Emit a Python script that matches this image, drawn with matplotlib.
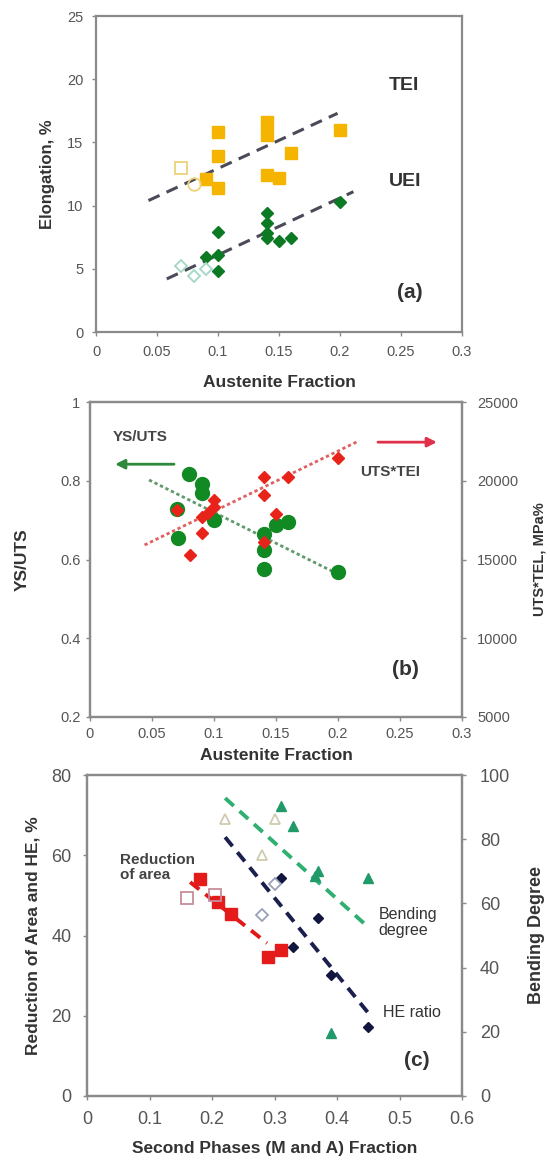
import matplotlib
matplotlib.use("Agg")
import matplotlib.pyplot as plt
from matplotlib.ticker import FuncFormatter

plt.rcParams['font.family'] = ['Liberation Sans', 'DejaVu Sans']

# ---- (a) elongation vs austenite fraction ----
tei_x = [0.09, 0.1, 0.1, 0.1, 0.14, 0.14, 0.14, 0.15, 0.16, 0.2]
tei_y = [12.1, 15.8, 13.9, 11.4, 16.6, 15.6, 12.4, 12.2, 14.2, 16.0]
tei_open_sq_x = [0.07]
tei_open_sq_y = [13.0]
tei_open_circ_x = [0.08]
tei_open_circ_y = [11.7]
uei_x = [0.09, 0.1, 0.1, 0.1, 0.14, 0.14, 0.14, 0.14, 0.15, 0.16, 0.2]
uei_y = [5.9, 7.9, 6.1, 4.8, 9.4, 8.6, 7.8, 7.4, 7.2, 7.4, 10.3]
uei_open_x = [0.07, 0.08, 0.09]
uei_open_y = [5.2, 4.4, 5.0]
tei_fit_x = [0.043, 0.198]
tei_fit_y = [10.4, 17.3]
uei_fit_x = [0.058, 0.211]
uei_fit_y = [4.2, 11.1]

# ---- (b) YS/UTS and UTS*TEl ----
ys_x = [0.07, 0.071, 0.08, 0.09, 0.09, 0.1, 0.14, 0.14, 0.14, 0.15, 0.16, 0.2]
ys_y = [0.728, 0.655, 0.817, 0.792, 0.769, 0.70, 0.665, 0.624, 0.576, 0.688, 0.695, 0.568]
pse_x = [0.07, 0.081, 0.09, 0.09, 0.095, 0.1, 0.1, 0.14, 0.14, 0.14, 0.15, 0.16, 0.2]
pse_y = [18140, 15290, 16680, 17700, 17950, 18330, 18780, 20240, 19100, 16110, 17890, 20240, 21440]
ys_fit_x = [0.0476, 0.198]
ys_fit_y = [0.802, 0.566]
pse_fit_x = [0.044, 0.215]
pse_fit_y = [15920, 22460]

# ---- (c) reduction of area, HE ratio, bending degree ----
ra_x = [0.18, 0.21, 0.23, 0.29, 0.31]
ra_y = [54.1, 48.3, 45.3, 34.6, 36.4]
ra_open_x = [0.16, 0.205]
ra_open_y = [49.3, 50.2]
he_x = [0.31, 0.33, 0.37, 0.39, 0.45]
he_y = [54.3, 37.1, 44.4, 30.2, 17.2]
he_open_x = [0.28, 0.30]
he_open_y = [45.1, 52.8]
bend_x = [0.31, 0.33, 0.365, 0.37, 0.39, 0.45]
bend_y = [90.3, 84.1, 68.5, 70.0, 19.6, 67.9]
bend_open_x = [0.22, 0.28, 0.30]
bend_open_y = [86.3, 75.1, 86.3]
ra_fit_x = [0.165, 0.288]
ra_fit_y = [53.3, 38.1]
he_fit_x = [0.221, 0.45]
he_fit_y = [64.5, 20.7]
bend_fit_x = [0.221, 0.45]
bend_fit_y = [92.8, 52.6]

SPINE = '#8a8a8a'
TICKC = '#555555'
LABELC = '#333333'
fmt = FuncFormatter(lambda v, p: f'{v:g}')


def style(ax, size, pad):
    for s in ax.spines.values():
        s.set_color(SPINE)
        s.set_linewidth(1.6)
    ax.tick_params(direction='out', length=3, width=1, color=SPINE,
                   labelcolor=TICKC, labelsize=size, pad=pad)
    ax.xaxis.set_major_formatter(fmt)
    ax.yaxis.set_major_formatter(fmt)


fig = plt.figure(figsize=(5.5, 11.62), dpi=100)

# panel (a)
ax = fig.add_axes([96 / 550, 1 - 332 / 1162, 366 / 550, 316 / 1162])
ax.plot(tei_fit_x, tei_fit_y, ls=(0, (4, 2.5)), color='#4a4a58', lw=2.2)
ax.plot(uei_fit_x, uei_fit_y, ls=(0, (4, 2.5)), color='#4a4a58', lw=2.2)
ax.plot(tei_x, tei_y, 's', ms=9, color='#f5b400', mec='#f5b400')
ax.plot(tei_open_sq_x, tei_open_sq_y, 's', ms=9, mfc='none', mec='#ecd27a', mew=1.3)
ax.plot(tei_open_circ_x, tei_open_circ_y, 'o', ms=9, mfc='none', mec='#ecd27a', mew=1.3)
ax.plot(uei_x, uei_y, 'D', ms=6.5, color='#0b7a22')
ax.plot(uei_open_x, uei_open_y, 'D', ms=6.5, mfc='none', mec='#a3d8c6', mew=1.3)
ax.text(0.24, 19.5, 'TEI', fontsize=14, fontweight='bold', color='#333333', va='center')
ax.text(0.24, 11.9, 'UEI', fontsize=14, fontweight='bold', color='#333333', va='center')
ax.text(0.257, 3.1, '(a)', fontsize=15, fontweight='bold', color='#333333', ha='center', va='center')
ax.set_xlim(0, 0.3)
ax.set_ylim(0, 25)
ax.set_xticks([0, 0.05, 0.1, 0.15, 0.2, 0.25, 0.3])
ax.set_yticks([0, 5, 10, 15, 20, 25])
style(ax, 10.5, 6)
ax.set_xlabel('Austenite Fraction', fontsize=12.5, fontweight='bold', color=LABELC)
ax.set_ylabel('Elongation, %', fontsize=12, fontweight='bold', color=LABELC)
ax.xaxis.set_label_coords(0.5, -0.135)
ax.yaxis.set_label_coords(-0.112, 0.5)

# panel (b)
ax = fig.add_axes([90 / 550, 1 - 717 / 1162, 372 / 550, 315 / 1162])
ax2 = ax.twinx()
ax.plot(ys_fit_x, ys_fit_y, ls=(0, (1.2, 1)), color='#5f9a6c', lw=2)
ax2.plot(pse_fit_x, pse_fit_y, ls=(0, (1.2, 1)), color='#e06060', lw=2)
ax.plot(ys_x, ys_y, 'o', ms=10, color='#128a24')
ax2.plot(pse_x, pse_y, 'D', ms=6.5, color='#e8231a')
ax.annotate('', xy=(0.018, 0.842), xytext=(0.07, 0.842),
            arrowprops=dict(arrowstyle='-|>', color='#2e8a3a', lw=2, mutation_scale=14))
ax.annotate('', xy=(0.282, 0.898), xytext=(0.23, 0.898),
            arrowprops=dict(arrowstyle='-|>', color='#e0304a', lw=2, mutation_scale=14))
ax.text(0.0185, 0.91, 'YS/UTS', fontsize=11, fontweight='bold', color='#444444', va='center')
ax.text(0.218, 0.822, 'UTS*TEI', fontsize=11, fontweight='bold', color='#444444', va='center')
ax.text(0.254, 0.32, '(b)', fontsize=15, fontweight='bold', color='#333333', ha='center', va='center')
ax.set_xlim(0, 0.3)
ax.set_ylim(0.2, 1)
ax2.set_ylim(5000, 25000)
ax.set_xticks([0, 0.05, 0.1, 0.15, 0.2, 0.25, 0.3])
ax.set_yticks([0.2, 0.4, 0.6, 0.8, 1])
ax2.set_yticks([5000, 10000, 15000, 20000, 25000])
style(ax, 10.5, 4)
style(ax2, 10.5, 8)
ax.set_xlabel('Austenite Fraction', fontsize=12.5, fontweight='bold', color=LABELC)
ax.set_ylabel('YS/UTS', fontsize=12.5, fontweight='bold', color=LABELC)
ax2.set_ylabel('UTS*TEL, MPa%', fontsize=10.5, fontweight='bold', color=LABELC, rotation=90)
ax.xaxis.set_label_coords(0.5, -0.1)
ax.yaxis.set_label_coords(-0.161, 0.5)
ax2.yaxis.set_label_coords(1.19, 0.5)

# panel (c)
ax = fig.add_axes([87 / 550, 1 - 1096 / 1162, 375 / 550, 321 / 1162])
ax2 = ax.twinx()
ax.plot(ra_fit_x, ra_fit_y, ls=(0, (3, 2)), color='#e01818', lw=2.8)
ax.plot(he_fit_x, he_fit_y, ls=(0, (3, 2)), color='#1a1f4e', lw=2.8)
ax2.plot(bend_fit_x, bend_fit_y, ls=(0, (3, 2)), color='#2fb070', lw=2.8)
ax.plot(ra_x, ra_y, 's', ms=8, color='#e51a1a')
ax.plot(ra_open_x, ra_open_y, 's', ms=8, mfc='none', mec='#c88e9a', mew=1.3)
ax.plot(he_x, he_y, 'D', ms=5, color='#12163f')
ax.plot(he_open_x, he_open_y, 'D', ms=6, mfc='none', mec='#9aa0b8', mew=1.3)
ax2.plot(bend_x, bend_y, '^', ms=7, color='#1f9a68')
ax2.plot(bend_open_x, bend_open_y, '^', ms=7, mfc='none', mec='#cfcbb0', mew=1.3)
ax.text(0.053, 60.5, 'Reduction\nof area', fontsize=11, fontweight='bold', color='#444444',
        va='top', linespacing=1.1)
ax.text(0.466, 43.3, 'Bending\ndegree', fontsize=11.5, color='#333333', va='center', linespacing=1.1)
ax.text(0.474, 20.9, 'HE ratio', fontsize=11.5, color='#333333', va='center')
ax.text(0.528, 8.8, '(c)', fontsize=15, fontweight='bold', color='#333333', ha='center', va='center')
ax.set_xlim(0, 0.6)
ax.set_ylim(0, 80)
ax2.set_ylim(0, 100)
ax.set_xticks([0, 0.1, 0.2, 0.3, 0.4, 0.5, 0.6])
ax.set_yticks([0, 20, 40, 60, 80])
ax2.set_yticks([0, 20, 40, 60, 80, 100])
style(ax, 13, 8)
style(ax2, 13, 10)
ax.set_xlabel('Second Phases (M and A) Fraction', fontsize=12.5, fontweight='bold', color=LABELC)
ax.set_ylabel('Reduction of Area and HE, %', fontsize=12.5, fontweight='bold', color=LABELC)
ax2.set_ylabel('Bending Degree', fontsize=13, fontweight='bold', color=LABELC, rotation=90)
ax.xaxis.set_label_coords(0.5, -0.14)
ax.yaxis.set_label_coords(-0.125, 0.5)
ax2.yaxis.set_label_coords(1.176, 0.5)

fig.savefig('out.png', dpi=100)
